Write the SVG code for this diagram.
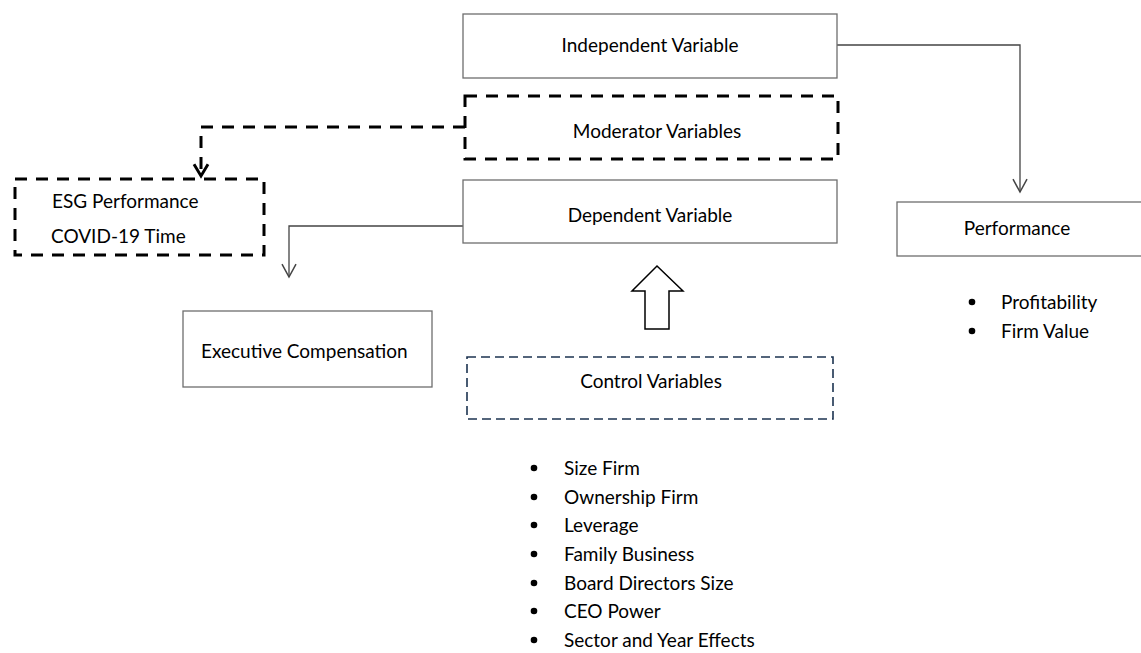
<svg xmlns="http://www.w3.org/2000/svg" width="1141" height="653" viewBox="0 0 1141 653">
<defs>
<style>
.box{fill:#fff;stroke:#6e6e6e;stroke-width:1.3}
.dbox{fill:#fff;stroke:#000;stroke-width:3;stroke-dasharray:12 9}
.cbox{fill:#fff;stroke:#1c3350;stroke-width:1.6;stroke-dasharray:9 5}
.t{font-family:Lato,"Liberation Sans",sans-serif;font-size:19px;fill:#000}
.line{fill:none;stroke:#444;stroke-width:1.3}
.dline{fill:none;stroke:#000;stroke-width:3;stroke-dasharray:12 9}
</style>
<marker id="arr" markerWidth="14" markerHeight="14" refX="6" refY="11" orient="0" markerUnits="userSpaceOnUse" viewBox="0 0 12 12" overflow="visible">
<path d="M0,0 L6,11 L12,0" fill="none" stroke="#444" stroke-width="1.3"/>
</marker>
<marker id="darr" markerWidth="14" markerHeight="14" refX="6" refY="11" orient="0" markerUnits="userSpaceOnUse" viewBox="0 0 12 12" overflow="visible">
<path d="M0,1 L6,11 L12,1" fill="none" stroke="#000" stroke-width="2.5"/>
</marker>
</defs>
<rect width="1141" height="653" fill="#fff"/>

<g id="connectors">
<path class="line" d="M837,45 H1020 V192" marker-end="url(#arr)"/>
<path class="line" d="M463,226 H289 V277" marker-end="url(#arr)"/>
<path class="dline" d="M465,127 H201 V176" marker-end="url(#darr)"/>
<path d="M657,266 L683,291 L669,291 L669,329 L645,329 L645,291 L632,291 Z" fill="#fff" stroke="#000" stroke-width="1.5" stroke-linejoin="miter"/>
</g>

<g id="independent">
<rect class="box" x="463" y="14" width="374" height="64"/>
<text class="t" x="650" y="52" text-anchor="middle">Independent Variable</text>
</g>

<g id="moderator">
<rect class="dbox" x="465" y="96" width="373" height="63"/>
<text class="t" x="657" y="138" text-anchor="middle">Moderator Variables</text>
</g>

<g id="dependent">
<rect class="box" x="463" y="180" width="374" height="63"/>
<text class="t" x="650" y="222" text-anchor="middle">Dependent Variable</text>
</g>

<g id="esg">
<rect class="dbox" x="15" y="179" width="249" height="76"/>
<text class="t" x="52" y="208">ESG Performance</text>
<text class="t" x="51" y="243">COVID-19 Time</text>
</g>

<g id="executive">
<rect class="box" x="183" y="311" width="249" height="76"/>
<text class="t" x="201" y="358">Executive Compensation</text>
</g>

<g id="performance">
<rect class="box" x="897" y="202" width="250" height="54"/>
<text class="t" x="1017" y="235" text-anchor="middle">Performance</text>
<circle cx="972" cy="302" r="3.3"/>
<text class="t" x="1001" y="309">Profitability</text>
<circle cx="972" cy="331" r="3.3"/>
<text class="t" x="1001" y="338">Firm Value</text>
</g>

<g id="control">
<rect class="cbox" x="467" y="357" width="366" height="62"/>
<text class="t" x="651" y="388" text-anchor="middle">Control Variables</text>
<circle cx="534" cy="468" r="3.3"/>
<text class="t" x="564" y="475">Size Firm</text>
<circle cx="534" cy="497" r="3.3"/>
<text class="t" x="564" y="504">Ownership Firm</text>
<circle cx="534" cy="525" r="3.3"/>
<text class="t" x="564" y="532">Leverage</text>
<circle cx="534" cy="554" r="3.3"/>
<text class="t" x="564" y="561">Family Business</text>
<circle cx="534" cy="583" r="3.3"/>
<text class="t" x="564" y="590">Board Directors Size</text>
<circle cx="534" cy="611" r="3.3"/>
<text class="t" x="564" y="618">CEO Power</text>
<circle cx="534" cy="640" r="3.3"/>
<text class="t" x="564" y="647">Sector and Year Effects</text>
</g>
</svg>
